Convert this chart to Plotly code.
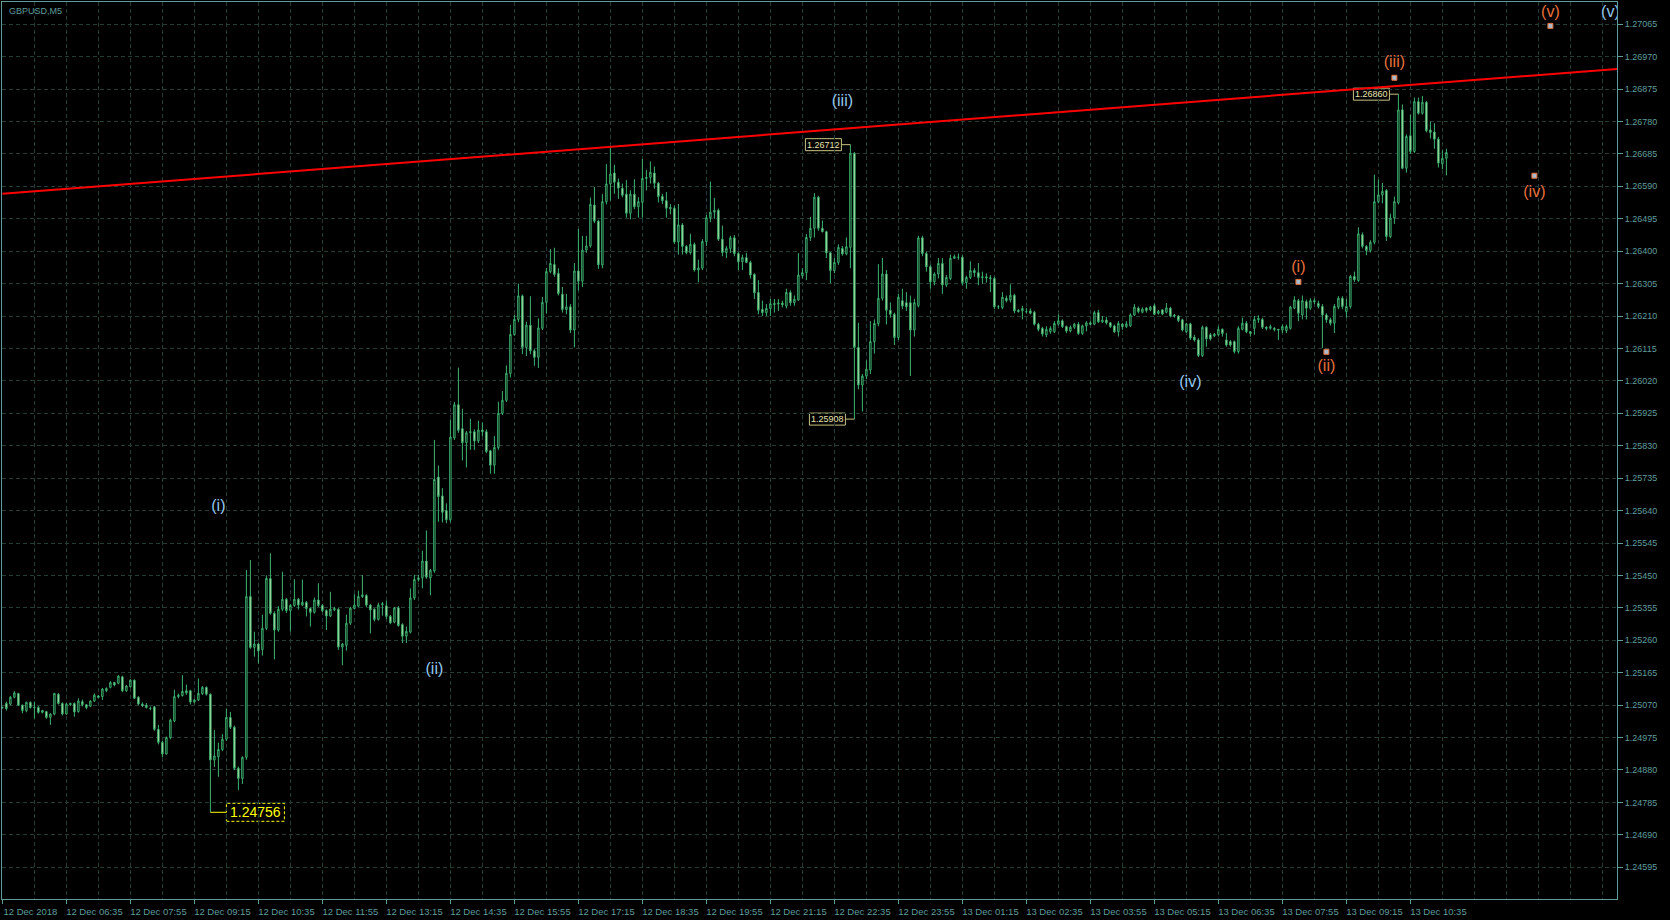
import pandas as pd
import plotly.graph_objects as go

# ---------------- data ----------------
symbol_title = "GBPUSD,M5"
start_time = "2018-12-12 05:15"
bar_minutes = 5

# prices stored as points: price = 1 + pts / 100000
open_pts = [
    25062, 25075, 25073, 25093, 25104, 25070, 25054, 25078, 25064, 25063,
    25054, 25051, 25034, 25044, 25102, 25075, 25044, 25071, 25075, 25051,
    25080, 25071, 25067, 25082, 25097, 25095, 25112, 25122, 25136, 25134,
    25153, 25112, 25124, 25143, 25093, 25073, 25070, 25060, 25065, 24999,
    24961, 24927, 24975, 25024, 25095, 25098, 25112, 25112, 25079, 25085,
    25104, 25122, 25102, 24909, 24919, 24940, 24970, 25034, 25005, 24885,
    24855, 24917, 25388, 25239, 25249, 25233, 25295, 25441, 25339, 25290,
    25351, 25380, 25347, 25362, 25380, 25363, 25371, 25353, 25342, 25378,
    25362, 25347, 25331, 25349, 25351, 25240, 25245, 25310, 25353, 25360,
    25388, 25391, 25363, 25351, 25321, 25364, 25361, 25330, 25313, 25355,
    25306, 25272, 25284, 25384, 25438, 25443, 25492, 25443, 25463, 25738,
    25683, 25640, 25613, 25853, 25950, 25880, 25839, 25868, 25871, 25844,
    25876, 25871, 25815, 25773, 25824, 25925, 25963, 26042, 26156, 26200,
    26269, 26118, 26183, 26108, 26089, 26174, 26250, 26340, 26361, 26335,
    26274, 26229, 26237, 26169, 26342, 26312, 26403, 26415, 26535, 26488,
    26360, 26545, 26597, 26629, 26602, 26584, 26567, 26511, 26567, 26530,
    26543, 26613, 26616, 26629, 26599, 26560, 26548, 26528, 26526, 26427,
    26477, 26414, 26396, 26420, 26345, 26350, 26428, 26498, 26514, 26520,
    26435, 26396, 26408, 26439, 26393, 26369, 26381, 26367, 26332, 26279,
    26229, 26220, 26232, 26243, 26245, 26248, 26239, 26279, 26249, 26257,
    26328, 26337, 26440, 26467, 26558, 26467, 26457, 26395, 26343, 26367,
    26408, 26392, 26411, 26687, 26118, 26008, 26034, 26052, 26135, 26188,
    26262, 26333, 26227, 26215, 26147, 26255, 26249, 26249, 26169, 26240,
    26439, 26393, 26354, 26310, 26333, 26364, 26301, 26320, 26379, 26382,
    26382, 26308, 26323, 26343, 26337, 26325, 26325, 26322, 26320, 26237,
    26235, 26262, 26257, 26271, 26227, 26225, 26223, 26225, 26221, 26186,
    26174, 26155, 26164, 26164, 26186, 26196, 26179, 26166, 26177, 26186,
    26159, 26181, 26190, 26186, 26220, 26193, 26198, 26190, 26181, 26164,
    26186, 26179, 26181, 26213, 26233, 26221, 26233, 26228, 26240, 26218,
    26228, 26221, 26233, 26213, 26210, 26199, 26164, 26187, 26148, 26140,
    26094, 26177, 26155, 26152, 26155, 26171, 26140, 26135, 26135, 26106,
    26171, 26189, 26164, 26174, 26199, 26200, 26177, 26174, 26174, 26171,
    26169, 26167, 26174, 26233, 26255, 26213, 26252, 26233, 26255, 26247,
    26238, 26213, 26199, 26189, 26236, 26262, 26223, 26238, 26326, 26314,
    26448, 26414, 26402, 26426, 26545, 26565, 26578, 26443, 26497, 26542,
    26814, 26643, 26738, 26692, 26838, 26804, 26836, 26755, 26749, 26728, 26656, 26672,
]
high_pts = [
    25066, 25080, 25097, 25111, 25106, 25072, 25080, 25081, 25080, 25067,
    25056, 25053, 25046, 25106, 25105, 25078, 25076, 25077, 25078, 25090,
    25086, 25073, 25084, 25104, 25099, 25120, 25122, 25140, 25138, 25158,
    25156, 25128, 25146, 25145, 25096, 25078, 25076, 25066, 25068, 25012,
    24965, 24978, 25030, 25115, 25104, 25158, 25130, 25115, 25088, 25148,
    25126, 25125, 25104, 24997, 24960, 24985, 25060, 25050, 25010, 24890,
    24920, 25466, 25495, 25285, 25252, 25335, 25450, 25515, 25345, 25360,
    25461, 25384, 25366, 25439, 25384, 25438, 25375, 25356, 25385, 25427,
    25366, 25351, 25402, 25358, 25354, 25252, 25335, 25358, 25395, 25405,
    25451, 25395, 25366, 25354, 25370, 25372, 25376, 25334, 25358, 25360,
    25310, 25300, 25412, 25452, 25452, 25522, 25582, 25469, 25847, 25772,
    25706, 25661, 25907, 25958, 26059, 25938, 25873, 25909, 25878, 25903,
    25898, 25878, 25818, 25858, 25959, 25990, 26065, 26184, 26214, 26305,
    26273, 26193, 26268, 26113, 26203, 26266, 26350, 26406, 26410, 26350,
    26295, 26275, 26245, 26365, 26465, 26445, 26445, 26557, 26588, 26492,
    26567, 26655, 26708, 26653, 26613, 26598, 26608, 26578, 26611, 26558,
    26670, 26638, 26663, 26648, 26603, 26568, 26573, 26538, 26533, 26538,
    26482, 26418, 26451, 26425, 26375, 26435, 26506, 26604, 26556, 26525,
    26475, 26415, 26445, 26447, 26397, 26390, 26395, 26372, 26335, 26315,
    26255, 26245, 26260, 26260, 26260, 26255, 26290, 26285, 26270, 26394,
    26350, 26450, 26500, 26570, 26562, 26490, 26460, 26398, 26380, 26420,
    26415, 26440, 26712, 26690, 26190, 26040, 26080, 26195, 26200, 26362,
    26380, 26345, 26250, 26220, 26275, 26290, 26280, 26270, 26260, 26445,
    26445, 26398, 26360, 26338, 26380, 26380, 26330, 26390, 26390, 26393,
    26388, 26328, 26370, 26350, 26365, 26340, 26335, 26330, 26325, 26242,
    26280, 26270, 26303, 26275, 26230, 26240, 26233, 26232, 26225, 26190,
    26178, 26180, 26180, 26195, 26215, 26200, 26182, 26182, 26190, 26192,
    26185, 26195, 26195, 26225, 26228, 26210, 26208, 26193, 26185, 26195,
    26190, 26195, 26218, 26245, 26238, 26235, 26236, 26240, 26246, 26228,
    26230, 26248, 26237, 26216, 26212, 26202, 26190, 26190, 26155, 26145,
    26182, 26180, 26160, 26160, 26180, 26174, 26160, 26140, 26138, 26180,
    26205, 26195, 26166, 26210, 26212, 26205, 26180, 26185, 26177, 26172,
    26185, 26185, 26240, 26268, 26260, 26270, 26258, 26262, 26262, 26255,
    26245, 26218, 26205, 26245, 26268, 26268, 26260, 26330, 26340, 26470,
    26455, 26418, 26432, 26624, 26610, 26600, 26582, 26510, 26560, 26860,
    26830, 26742, 26800, 26850, 26850, 26855, 26840, 26780, 26775, 26735, 26695, 26700,
]
low_pts = [
    25060, 25054, 25070, 25090, 25068, 25046, 25049, 25060, 25031, 25045,
    25046, 25030, 25012, 25040, 25072, 25040, 25042, 25068, 25036, 25048,
    25066, 25058, 25064, 25079, 25090, 25085, 25108, 25119, 25125, 25131,
    25108, 25109, 25121, 25088, 25070, 25065, 25060, 25055, 24995, 24955,
    24917, 24925, 24970, 25020, 25090, 25095, 25100, 25072, 25075, 25082,
    25100, 25098, 24756, 24889, 24860, 24935, 24965, 25000, 24880, 24821,
    24839, 24910, 25235, 25212, 25192, 25215, 25290, 25335, 25204, 25285,
    25345, 25340, 25285, 25358, 25350, 25360, 25330, 25300, 25338, 25358,
    25342, 25290, 25328, 25345, 25232, 25187, 25230, 25305, 25350, 25356,
    25384, 25358, 25280, 25315, 25318, 25332, 25322, 25307, 25310, 25300,
    25252, 25252, 25280, 25378, 25432, 25412, 25440, 25392, 25458, 25607,
    25605, 25603, 25606, 25847, 25868, 25787, 25766, 25818, 25818, 25838,
    25858, 25808, 25748, 25748, 25818, 25920, 25958, 26030, 26152, 26192,
    26098, 26093, 26098, 26064, 26058, 26169, 26218, 26335, 26325, 26270,
    26220, 26215, 26160, 26118, 26285, 26295, 26395, 26410, 26482, 26348,
    26350, 26537, 26548, 26568, 26553, 26558, 26498, 26493, 26523, 26498,
    26498, 26578, 26598, 26583, 26543, 26538, 26498, 26508, 26421, 26390,
    26390, 26391, 26390, 26340, 26309, 26345, 26415, 26485, 26495, 26430,
    26385, 26380, 26395, 26385, 26345, 26345, 26365, 26320, 26260, 26215,
    26210, 26210, 26210, 26220, 26225, 26235, 26232, 26240, 26240, 26255,
    26320, 26315, 26430, 26440, 26460, 26455, 26380, 26306, 26335, 26360,
    26387, 26388, 26350, 25908, 25995, 25930, 26025, 26040, 26100, 26180,
    26255, 26185, 26205, 26125, 26140, 26230, 26225, 26034, 26150, 26235,
    26385, 26340, 26290, 26300, 26320, 26275, 26295, 26315, 26378, 26375,
    26300, 26290, 26318, 26325, 26300, 26305, 26308, 26280, 26230, 26230,
    26230, 26250, 26250, 26218, 26220, 26200, 26218, 26215, 26182, 26165,
    26150, 26148, 26158, 26160, 26182, 26175, 26160, 26162, 26172, 26155,
    26155, 26165, 26183, 26183, 26190, 26190, 26185, 26175, 26160, 26150,
    26170, 26175, 26178, 26210, 26218, 26218, 26220, 26224, 26212, 26214,
    26212, 26218, 26206, 26205, 26192, 26165, 26160, 26140, 26135, 26090,
    26090, 26120, 26138, 26148, 26150, 26150, 26120, 26120, 26100, 26100,
    26168, 26160, 26150, 26155, 26190, 26172, 26168, 26170, 26165, 26140,
    26160, 26160, 26170, 26230, 26195, 26200, 26200, 26228, 26245, 26232,
    26116, 26190, 26182, 26160, 26230, 26230, 26205, 26232, 26310, 26310,
    26408, 26388, 26396, 26420, 26540, 26540, 26430, 26438, 26480, 26537,
    26640, 26630, 26685, 26688, 26800, 26800, 26748, 26730, 26700, 26645, 26640, 26622,
]
close_pts = [
    25063, 25060, 25093, 25106, 25070, 25054, 25078, 25063, 25063, 25049,
    25049, 25034, 25044, 25104, 25075, 25044, 25073, 25075, 25050, 25082,
    25071, 25063, 25082, 25099, 25093, 25117, 25119, 25136, 25129, 25155,
    25112, 25126, 25143, 25090, 25073, 25068, 25063, 25060, 24999, 24961,
    24927, 24975, 25026, 25095, 25099, 25110, 25106, 25079, 25085, 25104,
    25122, 25102, 24909, 24921, 24940, 24970, 25034, 25005, 24885, 24855,
    24917, 25388, 25239, 25249, 25229, 25295, 25441, 25339, 25290, 25351,
    25380, 25347, 25362, 25380, 25363, 25371, 25353, 25342, 25378, 25362,
    25347, 25331, 25351, 25353, 25240, 25249, 25310, 25354, 25363, 25388,
    25393, 25363, 25349, 25321, 25363, 25367, 25330, 25311, 25355, 25303,
    25272, 25286, 25384, 25438, 25443, 25492, 25445, 25465, 25731, 25681,
    25635, 25613, 25855, 25950, 25875, 25839, 25868, 25871, 25844, 25876,
    25871, 25813, 25773, 25825, 25925, 25963, 26042, 26156, 26200, 26269,
    26118, 26183, 26108, 26089, 26175, 26250, 26340, 26364, 26332, 26276,
    26229, 26237, 26169, 26342, 26312, 26403, 26415, 26537, 26488, 26360,
    26545, 26597, 26626, 26602, 26585, 26564, 26511, 26567, 26530, 26545,
    26613, 26616, 26631, 26599, 26560, 26548, 26526, 26525, 26427, 26477,
    26414, 26396, 26420, 26345, 26351, 26428, 26498, 26514, 26520, 26435,
    26396, 26408, 26439, 26393, 26369, 26381, 26367, 26330, 26278, 26227,
    26220, 26232, 26246, 26247, 26248, 26243, 26279, 26249, 26259, 26330,
    26337, 26440, 26467, 26558, 26467, 26457, 26395, 26343, 26367, 26411,
    26392, 26413, 26687, 26118, 26008, 26034, 26054, 26135, 26188, 26262,
    26333, 26227, 26215, 26147, 26265, 26239, 26237, 26169, 26249, 26439,
    26393, 26354, 26310, 26333, 26364, 26301, 26323, 26379, 26384, 26382,
    26308, 26323, 26343, 26337, 26323, 26323, 26322, 26320, 26237, 26237,
    26265, 26255, 26271, 26225, 26223, 26232, 26223, 26218, 26186, 26171,
    26157, 26171, 26174, 26188, 26196, 26179, 26166, 26177, 26186, 26159,
    26181, 26190, 26186, 26220, 26193, 26198, 26190, 26179, 26164, 26188,
    26179, 26187, 26213, 26236, 26223, 26230, 26226, 26236, 26215, 26224,
    26216, 26234, 26210, 26210, 26197, 26169, 26187, 26145, 26140, 26094,
    26177, 26143, 26143, 26157, 26171, 26159, 26125, 26125, 26106, 26174,
    26189, 26164, 26159, 26200, 26203, 26177, 26174, 26179, 26171, 26169,
    26179, 26179, 26236, 26257, 26218, 26255, 26233, 26255, 26252, 26238,
    26213, 26199, 26189, 26238, 26262, 26238, 26238, 26326, 26316, 26451,
    26414, 26402, 26426, 26545, 26565, 26575, 26443, 26497, 26545, 26814,
    26643, 26736, 26692, 26838, 26804, 26836, 26753, 26748, 26728, 26658, 26672, 26689,
]

x_tick_times = [
    "2018-12-12 05:15", "2018-12-12 06:35", "2018-12-12 07:55", "2018-12-12 09:15",
    "2018-12-12 10:35", "2018-12-12 11:55", "2018-12-12 13:15", "2018-12-12 14:35",
    "2018-12-12 15:55", "2018-12-12 17:15", "2018-12-12 18:35", "2018-12-12 19:55",
    "2018-12-12 21:15", "2018-12-12 22:35", "2018-12-12 23:55", "2018-12-13 01:15",
    "2018-12-13 02:35", "2018-12-13 03:55", "2018-12-13 05:15", "2018-12-13 06:35",
    "2018-12-13 07:55", "2018-12-13 09:15", "2018-12-13 10:35",
]
x_tick_labels = [
    "12 Dec 2018", "12 Dec 06:35", "12 Dec 07:55", "12 Dec 09:15", "12 Dec 10:35",
    "12 Dec 11:55", "12 Dec 13:15", "12 Dec 14:35", "12 Dec 15:55", "12 Dec 17:15",
    "12 Dec 18:35", "12 Dec 19:55", "12 Dec 21:15", "12 Dec 22:35", "12 Dec 23:55",
    "13 Dec 01:15", "13 Dec 02:35", "13 Dec 03:55", "13 Dec 05:15", "13 Dec 06:35",
    "13 Dec 07:55", "13 Dec 09:15", "13 Dec 10:35",
]
y_tick_labels = [
    "1.24595", "1.24690", "1.24785", "1.24880", "1.24975", "1.25070", "1.25165",
    "1.25260", "1.25355", "1.25450", "1.25545", "1.25640", "1.25735", "1.25830",
    "1.25925", "1.26020", "1.26115", "1.26210", "1.26305", "1.26400", "1.26495",
    "1.26590", "1.26685", "1.26780", "1.26875", "1.26970", "1.27065",
]

trend_times = ["2018-12-12 05:15", "2018-12-13 14:55"]
trend_prices = [1.26568, 1.26934]

blue_wave_labels = ["(i)", "(ii)", "(iii)", "(iv)", "(v)"]
blue_wave_times = ["2018-12-12 09:45", "2018-12-12 14:15", "2018-12-12 22:45",
                   "2018-12-13 06:00", "2018-12-13 14:45"]
blue_wave_prices = [1.25651, 1.25173, 1.26837, 1.26014, 1.27098]

orange_wave_labels = ["(i)", "(ii)", "(iii)", "(iv)", "(v)"]
orange_wave_times = ["2018-12-13 08:15", "2018-12-13 08:50", "2018-12-13 10:15",
                     "2018-12-13 13:10", "2018-12-13 13:30"]
orange_label_prices = [1.26351, 1.26061, 1.26952, 1.26571, 1.27098]
orange_point_prices = [1.26310, 1.26105, 1.26908, 1.26621, 1.27060]

price_tag_values = [1.24756, 1.26712, 1.25908, 1.26860]
price_tag_bar_times = ["2018-12-12 09:35", "2018-12-12 22:55",
                       "2018-12-12 23:00", "2018-12-13 10:20"]
price_tag_box_times = ["2018-12-12 09:55", "2018-12-12 22:43:45",
                       "2018-12-12 22:48:45", "2018-12-13 10:08:45"]

# ---------------- styles ----------------
BG = "#000000"
AXIS = "#5f9c9c"
GRID = "#223c36"
CANDLE_LINE = "#3cb371"
BEAR_FILL = "#eef0c0"
BLUE = "#94c8ee"
ORANGE = "#e8703a"
FONT = "Liberation Sans"


def to_price(pts):
    return [1 + p / 100000 for p in pts]


times = pd.date_range(start_time, periods=len(close_pts), freq=f"{bar_minutes}min")
bar = pd.Timedelta(minutes=bar_minutes)
x_start = times[0] - 0.1 * bar
x_end = times[0] + 403.65 * bar
grid_times = pd.date_range(times[0], x_end, freq=f"{8 * bar_minutes}min")

fig = go.Figure()

fig.add_trace(go.Candlestick(
    x=times,
    open=to_price(open_pts), high=to_price(high_pts),
    low=to_price(low_pts), close=to_price(close_pts),
    increasing=dict(line=dict(color=CANDLE_LINE, width=1), fillcolor="#000000"),
    decreasing=dict(line=dict(color=CANDLE_LINE, width=1), fillcolor=BEAR_FILL),
    whiskerwidth=0, showlegend=False, hoverinfo="skip",
))

fig.add_trace(go.Scatter(
    x=trend_times, y=trend_prices, mode="lines",
    line=dict(color="#ff0000", width=2), showlegend=False, hoverinfo="skip",
))

fig.add_trace(go.Scatter(
    x=blue_wave_times, y=blue_wave_prices, mode="text", text=blue_wave_labels,
    textfont=dict(family=FONT, size=16, color=BLUE), cliponaxis=True,
    showlegend=False, hoverinfo="skip",
))
fig.add_trace(go.Scatter(
    x=orange_wave_times, y=orange_label_prices, mode="text", text=orange_wave_labels,
    textfont=dict(family=FONT, size=16, color=ORANGE), cliponaxis=True,
    showlegend=False, hoverinfo="skip",
))
fig.add_trace(go.Scatter(
    x=orange_wave_times, y=orange_point_prices, mode="markers",
    marker=dict(symbol="square", size=5, color="#a8bccb", line=dict(color=ORANGE, width=1)),
    showlegend=False, hoverinfo="skip",
))

# price tags
tag_styles = [
    dict(side="right", w=58, h=18, size=14, border="#ffff00", text="#ffff00", dash="3px,2px"),
    dict(side="left", w=36, h=12, size=9, border="#c8c282", text="#e6e2ae", dash="solid"),
    dict(side="left", w=36, h=12, size=9, border="#c8c282", text="#e6e2ae", dash="solid"),
    dict(side="left", w=36, h=12, size=9, border="#c8c282", text="#e6e2ae", dash="solid"),
]
shapes = []
annotations = []
for val, bt, xt, st in zip(price_tag_values, price_tag_bar_times, price_tag_box_times, tag_styles):
    shapes.append(dict(type="line", xref="x", yref="y", x0=xt, x1=bt, y0=val, y1=val,
                       line=dict(color=st["border"], width=1), layer="above"))
    if st["side"] == "right":
        px0, px1, xs = 0, st["w"], st["w"] / 2
    else:
        px0, px1, xs = -st["w"], 0, -st["w"] / 2
    shapes.append(dict(type="rect", xref="x", yref="y", xsizemode="pixel", xanchor=xt,
                       x0=px0, x1=px1, ysizemode="pixel", yanchor=val,
                       y0=-st["h"] / 2, y1=st["h"] / 2,
                       line=dict(color=st["border"], width=1, dash=st["dash"]),
                       fillcolor="rgba(0,0,0,0)", layer="below"))
    annotations.append(dict(x=xt, y=val, xref="x", yref="y", xshift=xs, yshift=0,
                            text=f"{val:.5f}", showarrow=False, xanchor="center",
                            yanchor="middle",
                            font=dict(family=FONT, size=st["size"], color=st["text"])))

annotations.append(dict(x=0.003, y=0.998, xref="paper", yref="paper", text=symbol_title,
                        showarrow=False, xanchor="left", yanchor="top",
                        font=dict(family=FONT, size=9, color=AXIS)))

fig.update_layout(
    width=1670, height=920, autosize=False,
    paper_bgcolor=BG, plot_bgcolor=BG,
    margin=dict(l=2, r=53, t=2, b=21, pad=0),
    boxgap=0.5,
    showlegend=False,
    shapes=shapes, annotations=annotations,
    font=dict(family=FONT, size=9, color=AXIS),
    xaxis=dict(
        type="date", range=[x_start, x_end],
        tickvals=x_tick_times, ticktext=x_tick_labels, tickangle=0,
        ticks="outside", ticklen=4, tickcolor=AXIS, ticklabelshift=28,
        tickfont=dict(family=FONT, size=9.5, color=AXIS),
        showgrid=True, gridcolor=GRID, griddash="4px,3px", gridwidth=1,
        minor=dict(tickvals=list(grid_times), showgrid=True, gridcolor=GRID,
                   griddash="4px,3px", ticks=""),
        showline=True, linecolor=AXIS, linewidth=1, mirror=True,
        zeroline=False, rangeslider=dict(visible=False), fixedrange=True,
    ),
    yaxis=dict(
        side="right", range=[1.24502, 1.27130],
        tickvals=[float(v) for v in y_tick_labels], ticktext=y_tick_labels,
        ticks="outside", ticklen=5, tickcolor=AXIS,
        tickfont=dict(family=FONT, size=9, color=AXIS),
        showgrid=True, gridcolor=GRID, griddash="4px,3px", gridwidth=1,
        showline=True, linecolor=AXIS, linewidth=1, mirror=True,
        zeroline=False, fixedrange=True,
    ),
)

fig.write_html(
    "out.html",
    config={"displayModeBar": False},
    post_script="document.body.style.margin='0';document.body.style.overflow='hidden';"
                "document.body.style.background='#000';",
)
